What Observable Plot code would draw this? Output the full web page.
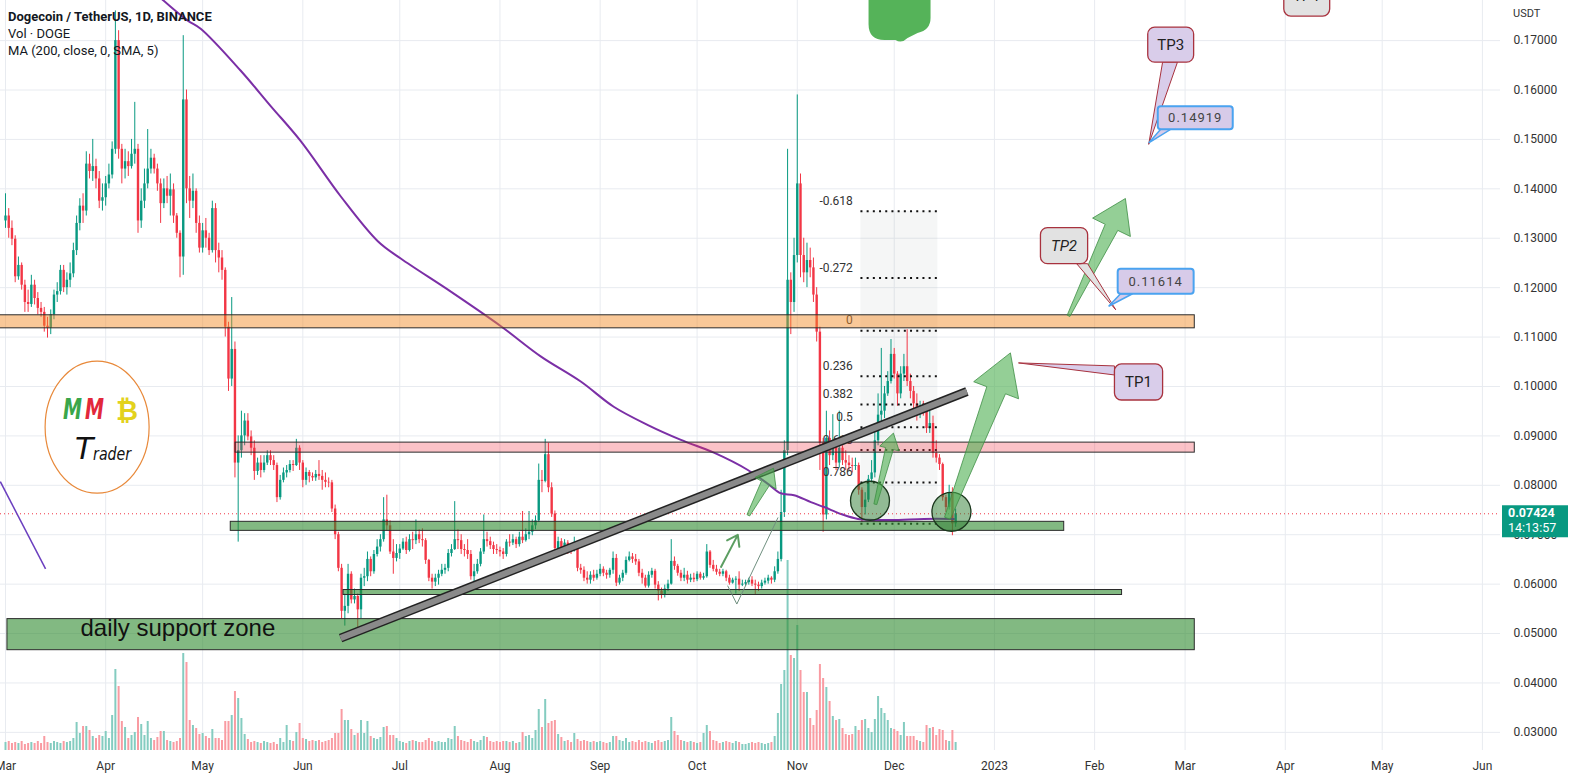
<!DOCTYPE html>
<html><head><meta charset="utf-8">
<script src="https://cdn.jsdelivr.net/npm/d3@7"></script>
<script src="https://cdn.jsdelivr.net/npm/@observablehq/plot@0.6"></script>
<style>
html,body{margin:0;padding:0;background:#fff;}
#chart{position:relative;width:1572px;height:778px;overflow:hidden;}
svg{display:block;}
</style></head><body><div id="chart"></div>
<script>
// ---------- DATA (DOGE/USDT daily, 2022-03-01 .. 2022-12-20) ----------
const startDate = "2022-03-01";
const firstOpen = 0.1335;
const close = [
0.1345,0.1320,0.1298,0.1222,0.1245,0.1205,0.1170,0.1166,0.1205,0.1178,0.1158,0.1150,0.1122,0.1118,0.1145,0.1185,0.1192,0.1235,0.1200,0.1215,0.1228,0.1275,0.1330,0.1365,0.1355,0.1450,0.1435,0.1445,0.1420,0.1375,0.1382,
0.1410,0.1428,0.1480,0.1700,0.1480,0.1440,0.1455,0.1445,0.1470,0.1480,0.1335,0.1375,0.1410,0.1440,0.1462,0.1440,0.1410,0.1370,0.1400,0.1385,0.1398,0.1345,0.1310,0.1262,0.1580,0.1400,0.1375,0.1395,0.1330,0.1280,
0.1315,0.1300,0.1275,0.1360,0.1275,0.1260,0.1235,0.1120,0.1015,0.1075,0.0845,0.0870,0.0900,0.0930,0.0898,0.0875,0.0828,0.0845,0.0830,0.0845,0.0860,0.0850,0.0840,0.0775,0.0810,0.0825,0.0830,0.0842,0.0840,0.0875,0.0845,
0.0810,0.0826,0.0818,0.0815,0.0822,0.0818,0.0810,0.0806,0.0805,0.0752,0.0700,0.0632,0.0545,0.0555,0.0620,0.0568,0.0575,0.0548,0.0612,0.0615,0.0650,0.0625,0.0660,0.0675,0.0690,0.0730,0.0718,0.0665,0.0652,0.0662,
0.0671,0.0685,0.0668,0.0690,0.0688,0.0700,0.0690,0.0688,0.0648,0.0612,0.0604,0.0612,0.0620,0.0628,0.0632,0.0662,0.0670,0.0690,0.0688,0.0670,0.0668,0.0660,0.0615,0.0625,0.0640,0.0665,0.0690,0.0686,0.0678,0.0670,0.0668,
0.0665,0.0660,0.0685,0.0683,0.0690,0.0680,0.0695,0.0688,0.0700,0.0705,0.0718,0.0728,0.0810,0.0808,0.0862,0.0795,0.0742,0.0672,0.0686,0.0672,0.0683,0.0670,0.0668,0.0676,0.0632,0.0628,0.0612,0.0608,0.0618,0.0612,0.0620,
0.0630,0.0622,0.0618,0.0628,0.0652,0.0602,0.0612,0.0622,0.0648,0.0655,0.0650,0.0645,0.0622,0.0612,0.0596,0.0618,0.0626,0.0598,0.0586,0.0578,0.0590,0.0600,0.0646,0.0636,0.0622,0.0612,0.0618,0.0608,0.0612,0.0609,
0.0620,0.0612,0.0615,0.0665,0.0638,0.0630,0.0624,0.0620,0.0625,0.0612,0.0602,0.0608,0.0610,0.0598,0.0600,0.0603,0.0608,0.0600,0.0598,0.0595,0.0602,0.0606,0.0612,0.0608,0.0625,0.0650,0.0745,0.0870,0.1215,0.1170,0.1265,
0.1410,0.1265,0.1230,0.1255,0.1240,0.1185,0.1110,0.0885,0.0740,0.0895,0.0860,0.0887,0.0845,0.0875,0.0850,0.0845,0.0840,0.0838,0.0840,0.0790,0.0755,0.0770,0.0812,0.0825,0.0890,0.0942,0.0950,0.0985,0.1010,0.1065,
0.1025,0.0985,0.1025,0.1040,0.1010,0.0990,0.0965,0.0945,0.0960,0.0950,0.0915,0.0925,0.0865,0.0855,0.0842,0.0775,0.0755,0.0785,0.0722,0.07424];
const high = [
0.1390,0.1360,0.1335,0.1305,0.1262,0.1250,0.1215,0.1195,0.1225,0.1215,0.1190,0.1170,0.1160,0.1140,0.1155,0.1195,0.1210,0.1245,0.1245,0.1230,0.1250,0.1290,0.1345,0.1380,0.1390,0.1475,0.1470,0.1500,0.1460,0.1435,0.1410,
0.1425,0.1450,0.1495,0.1760,0.1720,0.1490,0.1480,0.1475,0.1500,0.1575,0.1490,0.1400,0.1440,0.1520,0.1480,0.1470,0.1450,0.1420,0.1420,0.1425,0.1430,0.1410,0.1350,0.1315,0.1710,0.1600,0.1425,0.1430,0.1400,0.1345,
0.1330,0.1340,0.1310,0.1375,0.1370,0.1290,0.1275,0.1240,0.1130,0.1180,0.1090,0.0900,0.0950,0.0945,0.0945,0.0910,0.0890,0.0855,0.0860,0.0860,0.0870,0.0870,0.0860,0.0845,0.0820,0.0835,0.0840,0.0850,0.0850,0.0893,0.0880,
0.0850,0.0835,0.0830,0.0825,0.0830,0.0850,0.0830,0.0825,0.0815,0.0810,0.0760,0.0705,0.0640,0.0580,0.0640,0.0625,0.0590,0.0580,0.0620,0.0632,0.0665,0.0655,0.0668,0.0690,0.0700,0.0775,0.0780,0.0728,0.0690,0.0680,
0.0680,0.0692,0.0695,0.0700,0.0705,0.0730,0.0710,0.0712,0.0692,0.0650,0.0620,0.0620,0.0628,0.0640,0.0640,0.0670,0.0680,0.0767,0.0710,0.0700,0.0680,0.0690,0.0668,0.0640,0.0650,0.0672,0.0740,0.0705,0.0695,0.0685,0.0680,
0.0675,0.0672,0.0690,0.0700,0.0700,0.0695,0.0705,0.0747,0.0712,0.0747,0.0730,0.0738,0.0843,0.0830,0.0893,0.0885,0.0805,0.0748,0.0695,0.0692,0.0690,0.0688,0.0678,0.0695,0.0682,0.0640,0.0635,0.0625,0.0625,0.0628,0.0628,
0.0640,0.0635,0.0628,0.0632,0.0665,0.0660,0.0618,0.0628,0.0655,0.0665,0.0662,0.0660,0.0650,0.0630,0.0618,0.0625,0.0632,0.0630,0.0605,0.0592,0.0598,0.0608,0.0690,0.0655,0.0640,0.0628,0.0632,0.0626,0.0620,0.0622,
0.0625,0.0624,0.0622,0.0680,0.0668,0.0648,0.0638,0.0630,0.0630,0.0628,0.0618,0.0612,0.0615,0.0625,0.0608,0.0608,0.0612,0.0615,0.0608,0.0604,0.0608,0.0612,0.0618,0.0615,0.0635,0.0665,0.0790,0.0890,0.1480,0.1230,0.1300,
0.1590,0.1430,0.1300,0.1290,0.1280,0.1260,0.1200,0.1120,0.0895,0.0950,0.0910,0.0943,0.0890,0.0950,0.0880,0.0870,0.0860,0.0855,0.0855,0.0845,0.0795,0.0785,0.0820,0.0850,0.0920,0.0985,0.1077,0.1000,0.1030,0.1095,
0.1077,0.1030,0.1040,0.1065,0.1115,0.1025,0.1000,0.0985,0.0970,0.0970,0.0965,0.0950,0.0940,0.0890,0.0862,0.0845,0.0780,0.0800,0.0795,0.0752];
const low = [
0.1320,0.1300,0.1285,0.1210,0.1215,0.1195,0.1150,0.1150,0.1160,0.1165,0.1145,0.1140,0.1110,0.1098,0.1105,0.1135,0.1170,0.1185,0.1190,0.1185,0.1200,0.1220,0.1265,0.1315,0.1330,0.1345,0.1420,0.1415,0.1400,0.1360,0.1355,
0.1365,0.1400,0.1420,0.1470,0.1460,0.1410,0.1420,0.1425,0.1440,0.1450,0.1310,0.1320,0.1360,0.1400,0.1430,0.1430,0.1395,0.1330,0.1360,0.1370,0.1345,0.1330,0.1300,0.1220,0.1225,0.1370,0.1340,0.1360,0.1310,0.1270,
0.1270,0.1280,0.1265,0.1270,0.1250,0.1230,0.1215,0.1100,0.0990,0.1000,0.0815,0.0685,0.0855,0.0880,0.0890,0.0860,0.0810,0.0820,0.0815,0.0825,0.0840,0.0840,0.0830,0.0765,0.0770,0.0805,0.0815,0.0825,0.0828,0.0838,0.0830,
0.0795,0.0800,0.0805,0.0808,0.0808,0.0810,0.0790,0.0795,0.0795,0.0745,0.0690,0.0625,0.0530,0.0515,0.0540,0.0560,0.0560,0.0500,0.0530,0.0595,0.0605,0.0615,0.0620,0.0655,0.0665,0.0685,0.0708,0.0660,0.0620,0.0645,
0.0650,0.0668,0.0660,0.0665,0.0670,0.0680,0.0682,0.0675,0.0640,0.0605,0.0590,0.0595,0.0598,0.0615,0.0620,0.0625,0.0655,0.0668,0.0670,0.0660,0.0655,0.0650,0.0608,0.0605,0.0620,0.0635,0.0660,0.0675,0.0670,0.0660,0.0660,
0.0655,0.0650,0.0655,0.0675,0.0678,0.0672,0.0675,0.0682,0.0685,0.0690,0.0698,0.0710,0.0725,0.0785,0.0805,0.0785,0.0735,0.0655,0.0660,0.0665,0.0668,0.0660,0.0660,0.0665,0.0625,0.0620,0.0605,0.0600,0.0600,0.0605,0.0608,
0.0615,0.0615,0.0610,0.0612,0.0620,0.0595,0.0598,0.0605,0.0618,0.0645,0.0642,0.0638,0.0615,0.0600,0.0592,0.0592,0.0612,0.0590,0.0566,0.0570,0.0572,0.0585,0.0598,0.0628,0.0616,0.0605,0.0605,0.0600,0.0603,0.0603,
0.0605,0.0608,0.0608,0.0612,0.0632,0.0625,0.0618,0.0615,0.0615,0.0605,0.0598,0.0600,0.0580,0.0585,0.0595,0.0596,0.0598,0.0595,0.0578,0.0585,0.0590,0.0598,0.0600,0.0600,0.0603,0.0620,0.0645,0.0735,0.0860,0.1105,0.1150,
0.1250,0.1220,0.1210,0.1200,0.1220,0.1170,0.1090,0.0830,0.0705,0.0730,0.0840,0.0850,0.0830,0.0835,0.0840,0.0830,0.0830,0.0825,0.0830,0.0780,0.0725,0.0740,0.0765,0.0805,0.0815,0.0880,0.0925,0.0935,0.0980,0.1005,
0.1015,0.0960,0.0975,0.1010,0.1000,0.0975,0.0950,0.0930,0.0935,0.0940,0.0905,0.0905,0.0855,0.0845,0.0830,0.0768,0.0745,0.0750,0.0698,0.0715];
// relative volume (DOGE), arbitrary units
const volume = [
8,9,7,8,7,9,6,7,8,7,9,7,14,8,7,9,8,7,9,8,9,12,28,17,24,24,20,14,12,15,14,
19,12,35,81,64,29,23,12,15,18,33,26,15,29,12,10,13,19,19,10,9,8,9,12,97,88,30,25,22,16,
17,14,12,21,12,12,10,29,29,35,59,52,32,16,11,8,9,8,7,9,8,7,8,6,12,8,25,10,9,18,27,
12,11,9,10,9,10,8,9,10,12,17,17,41,30,30,21,15,17,30,17,29,14,12,11,13,23,24,15,15,12,
9,8,7,9,10,9,8,8,10,12,9,8,9,8,8,12,11,24,14,10,9,8,11,9,8,10,14,13,9,8,9,
8,9,9,8,9,7,8,18,14,15,12,20,41,23,51,27,29,30,16,13,9,10,8,17,11,9,10,9,8,9,8,
9,8,7,8,14,14,10,9,12,8,9,8,10,8,9,8,7,9,10,8,9,10,33,19,15,10,9,8,9,8,
7,8,17,25,19,10,9,7,8,9,8,7,9,8,6,6,7,8,7,8,7,6,7,8,14,37,66,80,190,95,92,
125,80,58,58,32,25,40,86,72,63,49,34,30,31,22,16,15,16,24,20,30,31,22,18,31,54,42,37,30,22,
21,19,15,28,14,14,14,10,9,8,25,22,23,15,21,20,10,9,20,8];
// MA(200): [day index from 2022-03-01, price]
const maDay   = [45,48.9,56.3,60.4,72.8,82,91.3,103.7,115.2,122.3,137.8,153.3,165.6,178,188.2,198.8,209,219.2,229.7,235.9,239.9,244,249.2,253.3,258.5,263.8,274,284.2,293.5];
const maPrice = [0.1805,0.1781,0.1741,0.1724,0.1639,0.1568,0.1497,0.1385,0.1294,0.1259,0.1192,0.1122,0.1061,0.1010,0.0959,0.0922,0.0892,0.0866,0.0831,0.0803,0.0784,0.0780,0.0766,0.0756,0.0742,0.0732,0.0730,0.0732,0.0732];
const lastPrice = 0.07424;
const yTicks = [0.03,0.04,0.05,0.06,0.07,0.08,0.09,0.10,0.11,0.12,0.13,0.14,0.15,0.16,0.17];
const xTickDates = ["2022-03-01","2022-04-01","2022-05-01","2022-06-01","2022-07-01","2022-08-01","2022-09-01","2022-10-01","2022-11-01","2022-12-01","2023-01-01","2023-02-01","2023-03-01","2023-04-01","2023-05-01","2023-06-01"];
const xTickLabels = ["Mar","Apr","May","Jun","Jul","Aug","Sep","Oct","Nov","Dec","2023","Feb","Mar","Apr","May","Jun"];
// drawings (day index, price)
const bands = [
  {i1:-5,   i2:368,   p1:0.11441, p2:0.11177, fill:"#f28c28", op:0.48},
  {i1:71.2, i2:368,   p1:0.08864, p2:0.08661, fill:"#f23645", op:0.30},
  {i1:69.7, i2:327.6, p1:0.07261, p2:0.07078, fill:"#2e8b2e", op:0.60},
  {i1:104.6,i2:345.5, p1:0.05881, p2:0.05780, fill:"#2e8b2e", op:0.60},
  {i1:0.6,  i2:368,   p1:0.05292, p2:0.04663, fill:"#2e8b2e", op:0.60}
];
const fibHigh = 0.1113, fibLow = 0.0722, fibFrom = 264.7, fibTo = 288.5, fibLabelAt = 262.2;
const fibLevels = [-0.618,-0.272,0,0.236,0.382,0.5,0.618,0.786,1];
const fibLabels = ["-0.618","-0.272","0","0.236","0.382","0.5","0.618","0.786",""];
const trendLine = {i1:103.7, p1:0.04907, i2:297.5, p2:0.09899};
const purpleLine = {i1:-1.6, p1:0.08073, i2:12.4, p2:0.06307};
const circles = [{i:267.5, p:0.07687}, {i:292.7, p:0.07464}];
const thinArrow = {i1:221.4, p1:0.06348, i2:226.6, p2:0.06997};
const grayPath = [{i:223.5,p:0.05962},{i:226.3,p:0.05597},{i:239.0,p:0.07342}];
const bigArrows = [
  {from:[291.6,0.07322], to:[311.1,0.10670], headLen:40, hw:48, sw:20, tw:6},
  {from:[329.1,0.11420], to:[346.7,0.13794], headLen:32, hw:42, sw:14, tw:3},
  {from:[269.3,0.07606], to:[274.9,0.09047], headLen:16, hw:20, sw:8, tw:3},
  {from:[230.0,0.07383], to:[237.8,0.08336], headLen:17, hw:24, sw:9, tw:3}
];
const callouts = [
  {text:"TP3", italic:false, fill:"#d9cdea", stroke:"#a8323e", x1:353.6, x2:367.8, y1:0.17264, y2:0.16554, tip:[353.9,0.1489], base:[[358.2,0.16554],[362.8,0.16554]]},
  {text:"TP2", italic:true,  fill:"#e2e2e2", stroke:"#a8323e", x1:320.4, x2:335.0, y1:0.13206, y2:0.12475, tip:[343.7,0.11542], base:[[331.6,0.12475],[335.0,0.12475]]},
  {text:"TP1", italic:false, fill:"#d9cdea", stroke:"#a8323e", x1:343.3, x2:358.2, y1:0.10446, y2:0.09716, tip:[313.6,0.10467], base:[[343.3,0.10406],[343.3,0.10223]]},
  {text:"TP4", italic:true,  fill:"#e2e2e2", stroke:"#a8323e", x1:395.7, x2:409.9, y1:0.1830, y2:0.17487, tip:null, base:null}
];
const priceTags = [
  {text:"0.14919", x1:356.7, x2:379.9, y1:0.15661, y2:0.15194, tip:[353.9,0.14919], base:[357.6,360.7]},
  {text:"0.11614", x1:344.3, x2:367.8, y1:0.12374, y2:0.11867, tip:[341.5,0.11614], base:[345.2,348.9]}
];
const logoAt = {i:28.5, p:0.09168};
const topShapeAt = {i:276.8};
const supportText = {i:23.2, p:0.05111, text:"daily support zone"};

// ---------- BUILD ----------
const DAY = 864e5, T0 = Date.parse(startDate);
const dt = i => new Date(T0 + i*DAY);
const UP = "#089981", DOWN = "#f23645";
const candles = close.map((c,i)=>{
  const o = i===0 ? firstOpen : close[i-1];
  return {date:dt(i), open:o, close:c, high:Math.max(high[i],o,c), low:Math.min(low[i],o,c), vol:volume[i], up:c>=o};
});
const yDomain = [0.02633, 0.178115];
const volBase = yDomain[0], volUnit = 1/4941.4; // one volume unit = one pixel of bar height
const ma = maDay.map((d,i)=>({date:dt(d), v:maPrice[i]}));
const fib = fibLevels.map((l,i)=>({p: fibHigh - l*(fibHigh-fibLow), label: fibLabels[i]}));
const tickLabel = new Map(xTickDates.map((d,i)=>[+new Date(d), xTickLabels[i]]));
const font = "Roboto, 'Liberation Sans', sans-serif";

const chart = Plot.plot({
  width:1572, height:778, marginLeft:0, marginRight:72, marginTop:0, marginBottom:28,
  style:{fontFamily:font, fontSize:"12px", color:"#333", background:"#fff", overflow:"visible"},
  x:{type:"utc", domain:[dt(-1.547), dt(462.6)]},
  y:{domain:yDomain},
  color:{type:"identity"},
  marks:[
    Plot.gridY(yTicks, {stroke:"#e8ebf0", strokeOpacity:1}),
    Plot.gridX(xTickDates.map(d=>new Date(d)), {stroke:"#e8ebf0", strokeOpacity:1}),
    Plot.ruleX(candles, {x:"date", y1:()=>volBase, y2:d=>volBase + d.vol*volUnit, stroke:d=>d.up?"#84ccc0":"#f99ba2", strokeWidth:2, clip:true}),
    Plot.rect([0], {x1:()=>dt(fibFrom), x2:()=>dt(fibTo), y1:()=>fib[0].p, y2:()=>fib[fib.length-1].p, fill:"#787b86", fillOpacity:0.07}),
    Plot.ruleX(candles, {x:"date", y1:"low", y2:"high", stroke:d=>d.up?UP:DOWN, strokeWidth:1, clip:true}),
    Plot.ruleX(candles, {x:"date", y1:"open", y2:"close", stroke:d=>d.up?UP:DOWN, strokeWidth:2.4, clip:true}),
    Plot.line(ma, {x:"date", y:"v", curve:"catmull-rom", stroke:"#7b2fa6", strokeWidth:2, clip:true}),
    Plot.ruleY([lastPrice], {stroke:DOWN, strokeDasharray:"1,3", strokeWidth:1}),
    Plot.ruleY(fib, {x1:()=>dt(fibFrom), x2:()=>dt(fibTo), y:"p", stroke:"#111", strokeWidth:2, strokeDasharray:"2,4.2"}),
    Plot.text(fib, {x:()=>dt(fibLabelAt), y:"p", text:"label", textAnchor:"end", dy:-10, fill:"#333", fontSize:12}),
    Plot.rect(bands, {x1:d=>dt(d.i1), x2:d=>dt(d.i2), y1:"p1", y2:"p2", fill:"fill", fillOpacity:"op", stroke:"#2b2b2b", strokeWidth:1, clip:true}),
    Plot.link([trendLine], {x1:d=>dt(d.i1), y1:"p1", x2:d=>dt(d.i2), y2:"p2", stroke:"#222", strokeWidth:9}),
    Plot.link([trendLine], {x1:d=>dt(d.i1), y1:"p1", x2:d=>dt(d.i2), y2:"p2", stroke:"#8a8a8a", strokeWidth:6}),
    Plot.link([purpleLine], {x1:d=>dt(d.i1), y1:"p1", x2:d=>dt(d.i2), y2:"p2", stroke:"#6b3fbf", strokeWidth:1.5, clip:true}),
    Plot.line(grayPath, {x:d=>dt(d.i), y:"p", stroke:"#6f8f7f", strokeWidth:1}),
    Plot.arrow([thinArrow], {x1:d=>dt(d.i1), y1:"p1", x2:d=>dt(d.i2), y2:"p2", stroke:"#5c9e62", strokeWidth:2, headLength:11, headAngle:70}),
    Plot.dot(circles, {x:d=>dt(d.i), y:"p", r:19.5, fill:"#2e7d32", fillOpacity:0.5, stroke:"#1a361c", strokeWidth:1.3}),
    Plot.text([supportText], {x:d=>dt(d.i), y:"p", text:"text", textAnchor:"start", fontSize:24, fill:"#111", fontFamily:"'Liberation Sans', Arial, sans-serif"}),
    Plot.axisY(yTicks, {anchor:"right", tickSize:0, tickPadding:13, tickFormat:d=>d.toFixed(5), fontSize:12}),
    Plot.axisX(xTickDates.map(d=>new Date(d)), {tickSize:0, tickPadding:11, tickFormat:d=>tickLabel.get(+d), fontSize:12})
  ]
});
document.getElementById("chart").appendChild(chart);

// ---------- overlays positioned through the plot's own scales ----------
const sx = chart.scale("x"), sy = chart.scale("y");
const X = i => sx.apply(dt(i)), Y = p => sy.apply(p);
const svg = d3.select(chart);
const g = svg.append("g").attr("text-anchor","start");

// green arrows
function arrowPoly(a){
  const x0=X(a.from[0]), y0=Y(a.from[1]), x1=X(a.to[0]), y1=Y(a.to[1]);
  const dx=x1-x0, dy=y1-y0, L=Math.hypot(dx,dy), ux=dx/L, uy=dy/L, nx=-uy, ny=ux;
  const bx=x1-ux*a.headLen, by=y1-uy*a.headLen;
  const P=(x,y)=>x.toFixed(1)+","+y.toFixed(1);
  return [P(x0+nx*a.tw/2,y0+ny*a.tw/2),P(bx+nx*a.sw/2,by+ny*a.sw/2),P(bx+nx*a.hw/2,by+ny*a.hw/2),P(x1,y1),
          P(bx-nx*a.hw/2,by-ny*a.hw/2),P(bx-nx*a.sw/2,by-ny*a.sw/2),P(x0-nx*a.tw/2,y0-ny*a.tw/2)].join(" ");
}
g.selectAll(".arr").data(bigArrows).join("polygon")
  .attr("points", arrowPoly).attr("fill","#4caf50").attr("fill-opacity",0.6)
  .attr("stroke","#3f8f45").attr("stroke-opacity",0.8).attr("stroke-width",1);

// callouts
for (const c of callouts){
  const bx1=X(c.x1), bx2=X(c.x2), by1=Y(c.y1), by2=Y(c.y2);
  if (c.tip){
    g.append("path").attr("d",`M${X(c.tip[0])},${Y(c.tip[1])}L${X(c.base[0][0])},${Y(c.base[0][1])}L${X(c.base[1][0])},${Y(c.base[1][1])}Z`)
      .attr("fill",c.fill).attr("stroke",c.stroke).attr("stroke-width",1);
  }
  g.append("rect").attr("x",bx1).attr("y",by1).attr("width",bx2-bx1).attr("height",by2-by1).attr("rx",7)
    .attr("fill",c.fill).attr("stroke",c.stroke).attr("stroke-width",1.3);
  g.append("text").attr("x",(bx1+bx2)/2).attr("y",(by1+by2)/2).attr("dy","0.35em").attr("text-anchor","middle")
    .attr("font-family",font).attr("font-size",15).attr("font-style",c.italic?"italic":"normal").attr("fill","#222").text(c.text);
}
for (const t of priceTags){
  const bx1=X(t.x1), bx2=X(t.x2), by1=Y(t.y1), by2=Y(t.y2);
  g.append("path").attr("d",`M${X(t.tip[0])},${Y(t.tip[1])}L${X(t.base[0])},${by2}L${X(t.base[1])},${by2}Z`)
    .attr("fill","#d7cbe9").attr("stroke","#4aa3f0").attr("stroke-width",1.5);
  g.append("rect").attr("x",bx1).attr("y",by1).attr("width",bx2-bx1).attr("height",by2-by1).attr("rx",3)
    .attr("fill","#d7cbe9").attr("stroke","#4aa3f0").attr("stroke-width",2);
  g.append("text").attr("x",(bx1+bx2)/2).attr("y",(by1+by2)/2).attr("dy","0.36em").attr("text-anchor","middle")
    .attr("font-family",font).attr("font-size",13).attr("letter-spacing","1px").attr("fill","#444").text(t.text);
}

// top green shape (partially visible drawing)
{
  const cx = X(topShapeAt.i);
  g.append("path").attr("transform",`translate(${cx},0)`)
   .attr("d","M-31,-5 L-31,24 Q-31,40 -15,40 L-4,40 Q2,44 8,38 L18,33 Q31,30 31,18 L31,-5 Z")
   .attr("fill","#4caf50").attr("fill-opacity",0.95);
}

// logo
{
  const cx = X(logoAt.i), cy = Y(logoAt.p);
  const lg = g.append("g").attr("transform",`translate(${cx},${cy})`).attr("text-anchor","start");
  lg.append("ellipse").attr("rx",52).attr("ry",66).attr("fill","#fff").attr("stroke","#e8893a").attr("stroke-width",1.2);
  lg.append("text").attr("x",-34).attr("y",-8).attr("font-family","'DejaVu Sans', sans-serif").attr("font-weight","bold").attr("font-style","italic")
    .attr("font-size",28).attr("textLength",19).attr("lengthAdjust","spacingAndGlyphs").attr("fill","#3aa64a").text("M");
  lg.append("text").attr("x",-12).attr("y",-8).attr("font-family","'DejaVu Sans', sans-serif").attr("font-weight","bold").attr("font-style","italic")
    .attr("font-size",28).attr("textLength",19).attr("lengthAdjust","spacingAndGlyphs").attr("fill","#e2283b").text("M");
  lg.append("text").attr("x",19).attr("y",-7).attr("font-family","'DejaVu Sans', sans-serif").attr("font-weight","bold")
    .attr("font-size",27).attr("fill","#e3d21c").text("\u20BF");
  lg.append("text").attr("x",-22).attr("y",32).attr("font-family","'DejaVu Sans', sans-serif").attr("font-style","italic")
    .attr("font-size",30).attr("fill","#111").text("T");
  lg.append("text").attr("x",-4).attr("y",33).attr("font-family","'DejaVu Sans', sans-serif").attr("font-style","italic")
    .attr("font-size",18).attr("textLength",38).attr("lengthAdjust","spacingAndGlyphs").attr("fill","#111").text("rader");
}

// legend / header text
const hg = svg.append("g").attr("text-anchor","start");
const hdr = [["Dogecoin / TetherUS, 1D, BINANCE","bold",21],["Vol \u00B7 DOGE","normal",38],["MA (200, close, 0, SMA, 5)","normal",55]];
for (const [t,w,y] of hdr){
  hg.append("text").attr("x",8).attr("y",y).attr("font-family",font).attr("font-size",13).attr("font-weight",w).attr("fill","#131722").text(t);
}
hg.append("text").attr("x",1513).attr("y",17).attr("font-family",font).attr("font-size",11).attr("fill","#333").text("USDT");

// last price tag
{
  const py = Y(lastPrice);
  hg.append("rect").attr("x",1502).attr("y",py-8).attr("width",66).attr("height",32).attr("fill","#089981");
  hg.append("text").attr("x",1508).attr("y",py+4).attr("font-family",font).attr("font-size",12.5).attr("font-weight","bold").attr("fill","#fff").text(lastPrice.toFixed(5));
  hg.append("text").attr("x",1508).attr("y",py+19).attr("font-family",font).attr("font-size",12.5).attr("fill","#fff").text("14:13:57");
}
</script>
</body></html>
